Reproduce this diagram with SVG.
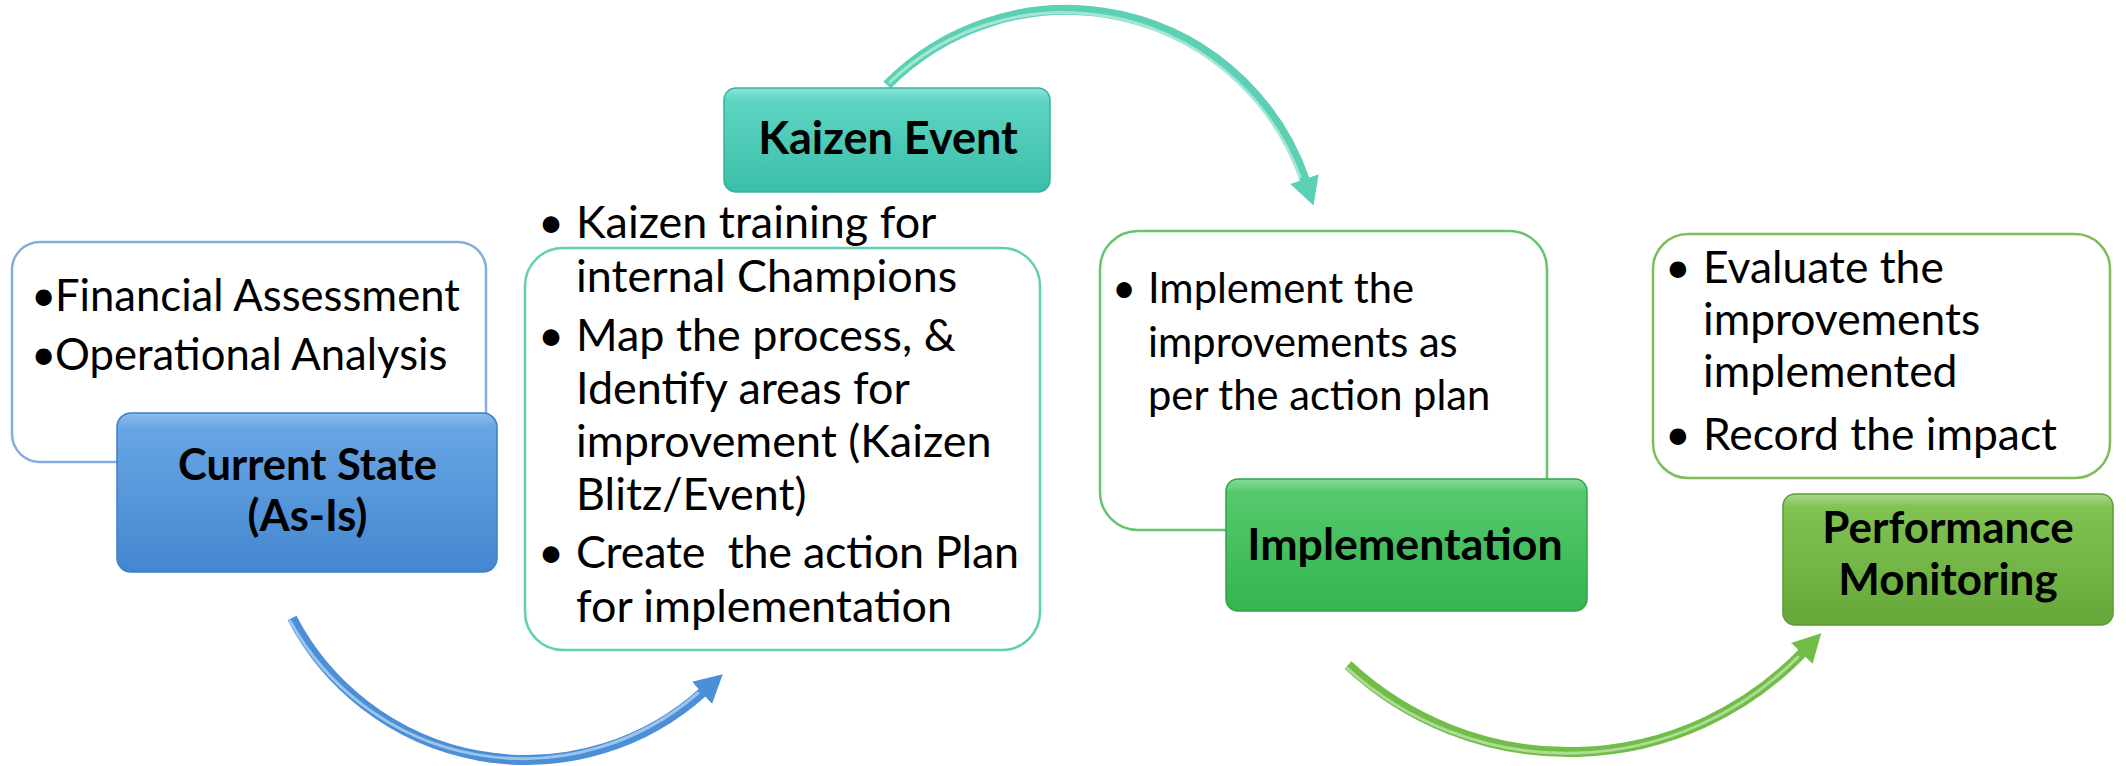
<svg xmlns="http://www.w3.org/2000/svg" width="2126" height="766" viewBox="0 0 2126 766">
  <style>
    .body { font-family: Lato, "Liberation Sans", sans-serif; fill: #000; }
    .title { font-family: Lato, "Liberation Sans", sans-serif; font-weight: bold; fill: #000; text-anchor: middle; }
    .tbox { fill: #fff; stroke-width: 2.5; }
    .cbox { stroke-width: 1.5; }
    .shaft { fill: none; stroke-width: 10; stroke-linecap: butt; }
    .gloss { fill: none; stroke-width: 3; stroke-linecap: round; opacity: 0.55; }
  </style>
  <defs>
    <linearGradient id="gBlue" x1="0" y1="0" x2="0" y2="1">
      <stop offset="0" stop-color="#8cbcec"/>
      <stop offset="0.1" stop-color="#67a5e3"/>
      <stop offset="1" stop-color="#4487d0"/>
    </linearGradient>
    <linearGradient id="gTeal" x1="0" y1="0" x2="0" y2="1">
      <stop offset="0" stop-color="#8ae6d8"/>
      <stop offset="0.12" stop-color="#5dd5c3"/>
      <stop offset="1" stop-color="#3bbea8"/>
    </linearGradient>
    <linearGradient id="gGreen" x1="0" y1="0" x2="0" y2="1">
      <stop offset="0" stop-color="#86dc95"/>
      <stop offset="0.1" stop-color="#55c96c"/>
      <stop offset="1" stop-color="#35b44f"/>
    </linearGradient>
    <linearGradient id="gLime" x1="0" y1="0" x2="0" y2="1">
      <stop offset="0" stop-color="#a8d88a"/>
      <stop offset="0.1" stop-color="#81c252"/>
      <stop offset="1" stop-color="#65a83a"/>
    </linearGradient>
    <marker id="hBlue" markerUnits="userSpaceOnUse" viewBox="0 0 28 30" markerWidth="28" markerHeight="30" refX="1" refY="15" orient="auto">
      <path d="M0,0 L28,15 L0,30 Z" fill="#4b8fd8"/>
    </marker>
    <marker id="hTeal" markerUnits="userSpaceOnUse" viewBox="0 0 28 30" markerWidth="28" markerHeight="30" refX="1" refY="15" orient="auto">
      <path d="M0,0 L28,15 L0,30 Z" fill="#5bd0b4"/>
    </marker>
    <marker id="hGreen" markerUnits="userSpaceOnUse" viewBox="0 0 28 30" markerWidth="28" markerHeight="30" refX="1" refY="15" orient="auto">
      <path d="M0,0 L28,15 L0,30 Z" fill="#70bd48"/>
    </marker>
  </defs>

  <g id="connectors">
    <path class="shaft" d="M292,618 A264,264 0 0 0 702.7,692.2" stroke="#4b8fd8" marker-end="url(#hBlue)"/>
    <path class="gloss" d="M290,621 A266,266 0 0 0 698,693" stroke="#e3f0fc"/>
    <path class="shaft" d="M887,85 A252,252 0 0 1 1304.8,180" stroke="#5bd0b4" marker-end="url(#hTeal)"/>
    <path class="gloss" d="M890,82 A252,252 0 0 1 1300,177" stroke="#e0f8f1"/>
    <path class="shaft" d="M1348,665 A324,324 0 0 0 1802.5,652.7" stroke="#70bd48" marker-end="url(#hGreen)"/>
    <path class="gloss" d="M1347,668 A326,326 0 0 0 1798,657" stroke="#e3f3d8"/>
  </g>

  <g id="current-state">
    <rect class="tbox" x="12" y="242" width="474" height="220" rx="28" stroke="#86aedd"/>
    <g class="body" font-size="43.6">
      <text x="31" y="311">•</text>
      <text x="55" y="311">Financial Assessment</text>
      <text x="31" y="370">•</text>
      <text x="55" y="370">Operational Analysis</text>
    </g>
    <rect class="cbox" x="117" y="413" width="380" height="159" rx="14" fill="url(#gBlue)" stroke="#3d7fc5"/>
    <text class="title" font-size="43.5" x="307.5" y="480">Current State</text>
    <text class="title" font-size="43.5" x="307.5" y="531">(As-Is)</text>
  </g>

  <g id="kaizen-event">
    <rect class="tbox" x="525" y="248" width="515" height="402" rx="38" stroke="#62cfb2"/>
    <rect class="cbox" x="724" y="88" width="326" height="104" rx="12" fill="url(#gTeal)" stroke="#35b29c"/>
    <text class="title" font-size="45" x="888" y="154">Kaizen Event</text>
    <g class="body" font-size="44.9">
      <text x="538" y="238">•</text>
      <text x="576" y="238">Kaizen training for</text>
      <text x="576" y="292">internal Champions</text>
      <text x="538" y="351">•</text>
      <text x="576" y="351">Map the process, &amp;</text>
      <text x="576" y="404">Identify areas for</text>
      <text x="576" y="457">improvement (Kaizen</text>
      <text x="576" y="510">Blitz/Event)</text>
      <text x="538" y="568">•</text>
      <text x="576" y="568" xml:space="preserve" textLength="443" lengthAdjust="spacing">Create  the action Plan</text>
      <text x="576" y="622">for implementation</text>
    </g>
  </g>

  <g id="implementation">
    <rect class="tbox" x="1100" y="231" width="447" height="299" rx="38" stroke="#66c46f"/>
    <g class="body" font-size="41.7">
      <text x="1112" y="303">•</text>
      <text x="1148" y="303">Implement the</text>
      <text x="1148" y="357">improvements as</text>
      <text x="1148" y="410">per the action plan</text>
    </g>
    <rect class="cbox" x="1226" y="479" width="361" height="132" rx="12" fill="url(#gGreen)" stroke="#2fa548"/>
    <text class="title" font-size="44.7" x="1405" y="560">Implementation</text>
  </g>

  <g id="performance-monitoring">
    <rect class="tbox" x="1653" y="234" width="457" height="244" rx="35" stroke="#80bd58"/>
    <g class="body" font-size="44.4">
      <text x="1665" y="283">•</text>
      <text x="1703" y="283">Evaluate the</text>
      <text x="1703" y="335">improvements</text>
      <text x="1703" y="387">implemented</text>
      <text x="1665" y="450">•</text>
      <text x="1703" y="450">Record the impact</text>
    </g>
    <rect class="cbox" x="1783" y="494" width="330" height="131" rx="12" fill="url(#gLime)" stroke="#5a9c33"/>
    <text class="title" font-size="44" x="1948" y="543">Performance</text>
    <text class="title" font-size="44" x="1948" y="595">Monitoring</text>
  </g>
</svg>
